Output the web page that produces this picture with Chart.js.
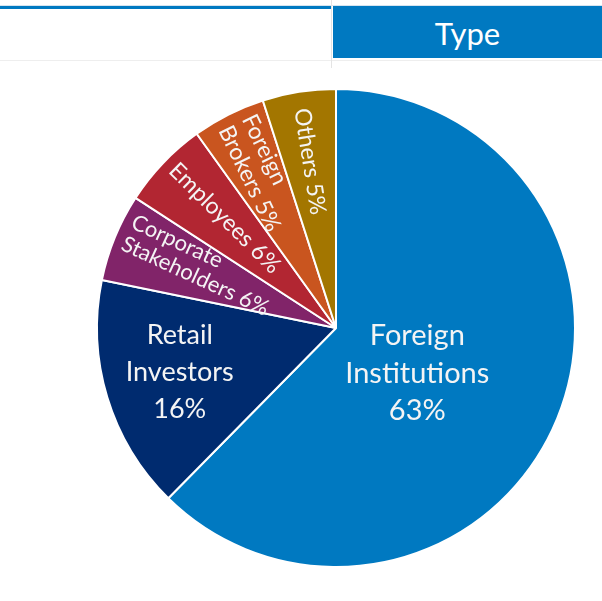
<!DOCTYPE html>
<html>
<head>
<meta charset="utf-8">
<script src="https://cdn.jsdelivr.net/npm/chart.js@4"></script>
<style>
  html, body { margin: 0; padding: 0; background: #fff; }
  body { width: 602px; height: 601px; position: relative; overflow: hidden; font-family: "Lato", sans-serif; }
  #wrap { position: absolute; left: 0; top: 0; width: 602px; height: 601px; }
  .rule-top { position: absolute; left: 0; top: 5px; width: 602px; height: 1px; background: #d6e4ef; }
  .rule-blue { position: absolute; left: 0; top: 6px; width: 331px; height: 3px; background: #0079c1; }
  .rule-bottom { position: absolute; left: 0; top: 60px; width: 602px; height: 1px; background: #eeeeee; }
  .rule-vert { position: absolute; left: 331px; top: 0; width: 1px; height: 68px; background: #e4e4e4; }
  .title-box {
    position: absolute; left: 333px; top: 6px; width: 269px; height: 52px;
    background: #0079c1; color: #fff; font-size: 31px; line-height: 54px; text-align: center;
  }
</style>
</head>
<body>
<div id="wrap"><canvas id="pieChart" width="602" height="601"></canvas></div>
<div class="rule-top"></div>
<div class="rule-blue"></div>
<div class="rule-bottom"></div>
<div class="rule-vert"></div>
<div class="title-box">Type</div>
<script>
// Shareholding by investor type, clockwise from 12 o'clock
const categories = ["Foreign Institutions", "Retail Investors", "Corporate Stakeholders", "Employees", "Foreign Brokers", "Others"];
const shares = [63, 16, 6, 6, 5, 5];
const sliceColors = ["#0079c1", "#002b6f", "#812469", "#b22632", "#c9551f", "#a37600"];

// Text written inside each slice
const sliceLabels = [
  ["Foreign", "Institutions", "63%"],
  ["Retail", "Investors", "16%"],
  ["Corporate", "Stakeholders 6%"],
  ["Employees 6%"],
  ["Foreign", "Brokers 5%"],
  ["Others 5%"],
];

// where each label sits: fraction of the radius, nudge along the arc (deg), font size, line height
const labelPlacement = [
  { r: 0.39, shift: 7, size: 29, lh: 37.5, flat: true },
  { r: 0.68, shift: 1, size: 27, lh: 37, flat: true },
  { r: 0.96, shift: 2.5, size: 22, lh: 24 },
  { r: 0.96, shift: 1, size: 23, lh: 26 },
  { r: 0.96, shift: 1, size: 23, lh: 26 },
  { r: 0.93, shift: 0, size: 23, lh: 26 },
];

/**
 * Draws the slice labels: big slices get centred horizontal text,
 * narrow slices get text running along the radius towards the centre
 */
const sliceLabelPlugin = {
  id: "sliceLabels",
  afterDatasetsDraw(chart) {
    const ctx = chart.ctx;
    const arcs = chart.getDatasetMeta(0).data;

    arcs.forEach((arc, i) => {
      const { x, y, startAngle, endAngle, outerRadius } = arc.getProps(
        ["x", "y", "startAngle", "endAngle", "outerRadius"], true
      );
      const place = labelPlacement[i];
      const mid = (startAngle + endAngle) / 2 + (place.shift * Math.PI) / 180;
      const lines = sliceLabels[i];
      const r = outerRadius * place.r;

      ctx.save();
      ctx.fillStyle = "#f4f4f4";
      ctx.font = `${place.size}px Lato, sans-serif`;
      ctx.textBaseline = "middle";
      ctx.translate(x + Math.cos(mid) * r, y + Math.sin(mid) * r);

      if (place.flat) {
        ctx.textAlign = "center";
      } else {
        // read from the rim inwards
        ctx.rotate(mid + Math.PI);
        ctx.textAlign = "left";
      }
      lines.forEach((line, k) => {
        ctx.fillText(line, 0, (k - (lines.length - 1) / 2) * place.lh);
      });
      ctx.restore();
    });
  },
};

new Chart(document.getElementById("pieChart"), {
  type: "pie",
  data: {
    labels: categories,
    datasets: [
      {
        data: shares,
        backgroundColor: sliceColors,
        borderColor: "#ffffff",
        borderWidth: 2,
        hoverOffset: 0,
      },
    ],
  },
  options: {
    responsive: false,
    animation: false,
    layout: {
      padding: { left: 96, right: 26, top: 88, bottom: 33 },
    },
    plugins: {
      legend: { display: false },
      tooltip: { enabled: false },
    },
  },
  plugins: [sliceLabelPlugin],
});
</script>
</body>
</html>
